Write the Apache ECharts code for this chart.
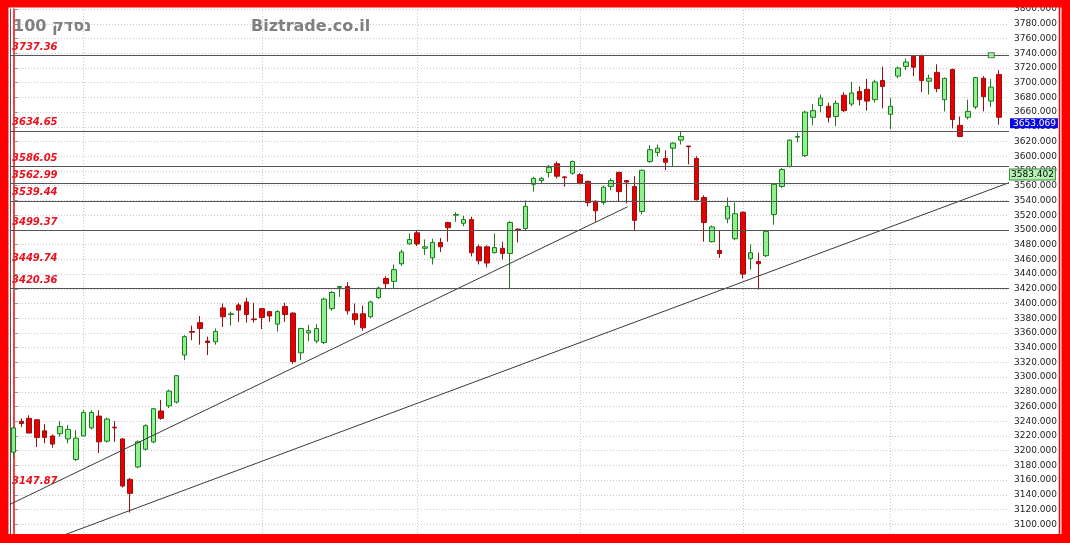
<!DOCTYPE html>
<html><head><meta charset="utf-8">
<script src="https://cdn.jsdelivr.net/npm/echarts@6/dist/echarts.min.js"></script>
<style>html,body{margin:0;padding:0;background:#f00;}#c{width:1070px;height:543px;}</style>
</head><body><div id="c"></div>
<script>
// ---- OHLC values ----
const opens  = [3198,3240,3244,3242,3227,3220,3223,3216,3188,3220,3231,3247,3213,3232,3216,3161,3178,3202,3212,3254,3261,3266,3330,3362,3374,3349,3348,3394,3385,3398,3402,3379,3393,3389,3372,3396,3387,3333,3360,3349,3347,3393,3422,3423,3386,3386,3382,3408,3434,3430,3454,3481,3496,3475,3462,3483,3510,3520,3509,3514,3477,3477,3469,3475,3468,3501,3502,3562,3567,3578,3590,3572,3577,3575,3566,3539,3537,3559,3578,3567,3559,3525,3593,3605,3597,3611,3622,3614,3597,3544,3484,3472,3515,3488,3524,3461,3457,3465,3521,3559,3586,3626,3601,3653,3669,3668,3654,3683,3671,3688,3691,3677,3703,3657,3709,3722,3736,3737,3702,3714,3677,3718,3642,3653,3667,3706,3675,3711];
const closes = [3231,3237,3224,3218,3218,3209,3233,3229,3217,3252,3252,3212,3243,3231,3152,3142,3212,3234,3257,3244,3281,3302,3355,3361,3366,3347,3362,3382,3386,3391,3385,3378,3381,3383,3389,3385,3321,3366,3363,3366,3406,3415,3423,3390,3378,3367,3402,3421,3427,3446,3470,3487,3481,3477,3483,3477,3503,3521,3514,3469,3458,3455,3476,3468,3510,3500,3532,3570,3570,3585,3573,3571,3593,3563,3537,3526,3558,3567,3552,3565,3513,3581,3609,3611,3592,3618,3627,3613,3541,3510,3504,3468,3532,3522,3440,3469,3454,3498,3562,3582,3622,3627,3660,3662,3679,3653,3672,3662,3686,3677,3675,3701,3695,3668,3720,3728,3721,3703,3706,3692,3706,3650,3627,3661,3707,3681,3694,3653.069];
const lows   = [3190,3232,3224,3205,3210,3204,3219,3210,3186,3220,3229,3197,3211,3212,3150,3116,3176,3200,3210,3242,3258,3264,3323,3350,3344,3330,3344,3368,3370,3375,3374,3374,3365,3375,3362,3375,3318,3323,3349,3346,3345,3390,3409,3385,3371,3363,3380,3406,3421,3421,3451,3480,3478,3466,3453,3470,3484,3511,3505,3464,3453,3449,3468,3460,3421,3483,3500,3552,3563,3571,3570,3559,3575,3562,3532,3511,3534,3554,3539,3536,3499,3521,3591,3600,3581,3586,3616,3589,3540,3484,3483,3462,3509,3486,3434,3446,3419,3463,3507,3557,3585,3619,3599,3642,3660,3646,3641,3660,3668,3669,3662,3673,3665,3637,3706,3717,3709,3687,3684,3687,3661,3638,3626,3650,3664,3661,3667,3643];
const highs  = [3233,3244,3248,3243,3236,3222,3240,3235,3228,3255,3255,3255,3245,3240,3217,3163,3214,3236,3258,3269,3283,3303,3357,3370,3383,3355,3366,3400,3389,3401,3408,3401,3394,3390,3391,3401,3388,3367,3371,3372,3408,3417,3424,3429,3400,3397,3404,3423,3437,3453,3473,3495,3500,3487,3488,3489,3511,3524,3519,3518,3480,3479,3495,3484,3512,3502,3540,3572,3572,3588,3593,3573,3594,3577,3567,3540,3560,3570,3579,3567,3573,3582,3615,3616,3608,3619,3634,3614,3600,3547,3506,3500,3544,3537,3525,3480,3469,3500,3563,3584,3623,3632,3662,3671,3684,3673,3676,3687,3701,3695,3705,3704,3722,3679,3722,3733,3737,3738,3711,3725,3707,3719,3654,3677,3708,3709,3705,3717];

// ---- annotations ----
const monthStartIdx = [9, 32, 52, 73, 94, 113];
const levelValues   = [3737.36, 3634.65, 3586.05, 3562.99, 3539.44, 3499.37, 3449.74, 3420.36, 3147.87];
const levelLineShown = [true, true, true, true, true, true, false, true, false];
const trendUpper = [[-0.5, 3127], [79.14, 3531.5]];
const trendLower = [[6, 3083.5], [128.29, 3564.2]];
const lastPrice = 3653.069;
const channelPrice = 3583.402;
const alertPoints = [[126, 3737.36]];
const yMin = 3080, yMax = 3800, yStep = 20;
const xMin = -0.477, xMax = 128.29;
const titleText = '100 נסדק';
const siteText = 'Biztrade.co.il';

const candleData = opens.map((o, i) => [i, o, closes[i], lows[i], highs[i]]);

const chart = echarts.init(document.getElementById('c'), null, {renderer: 'canvas'});
const titleStyle = {fontFamily: 'DejaVu Sans', fontWeight: 'bold', fontSize: 16, color: '#808080'};
const clear = 'rgba(0,0,0,0)';
chart.setOption({
  animation: false,
  backgroundColor: '#ffffff',
  title: [
    {text: titleText, left: 13, top: 19, padding: 0, textStyle: titleStyle},
    {text: siteText, left: 251, top: 19, padding: 0, textStyle: titleStyle}
  ],
  grid: {left: 10, right: 61, top: 9.1, bottom: 3.98, containLabel: false, outerBoundsMode: 'none'},
  xAxis: {type: 'value', min: xMin, max: xMax, show: false},
  yAxis: [{
    type: 'value', position: 'right', min: yMin, max: yMax, interval: yStep,
    axisLine: {show: true, lineStyle: {color: '#ff0000', width: 1.5}},
    axisTick: {show: true, length: 4, lineStyle: {color: '#888'}},
    axisLabel: {margin: 5, color: '#222', fontFamily: 'DejaVu Sans', fontSize: 9, formatter: v => v.toFixed(3)},
    splitLine: {show: true, lineStyle: {color: '#c8c8c8', type: [1, 2], width: 1}}
  }, {
    type: 'value', position: 'left', min: yMin, max: yMax,
    axisLine: {show: true, lineStyle: {color: '#555', width: 1}},
    axisTick: {show: false}, axisLabel: {show: false}, splitLine: {show: false}
  }],
  series: [
    {
      type: 'line', data: trendUpper, symbol: 'none', silent: true, z: 3,
      lineStyle: {color: '#3a3a3a', width: 1},
      markLine: {
        silent: true, symbol: 'none', z: 1, animation: false,
        label: {show: false},
        lineStyle: {color: '#c8c8c8', type: [1, 2], width: 1},
        data: monthStartIdx.map(i => ({xAxis: i}))
      }
    },
    {
      type: 'candlestick', data: candleData, encode: {x: 0, y: [1, 2, 3, 4]},
      barWidth: 5, silent: true,
      itemStyle: {color: '#8ef08e', color0: '#e60000', borderColor: '#1f7a1f', borderColor0: '#9a1010', borderWidth: 1},
      markLine: {
        silent: true, symbol: 'none', animation: false,
        lineStyle: {color: '#555', type: 'solid', width: 1.2},
        label: {
          show: true, position: 'insideStartTop', distance: [2, 3],
          color: '#e8121f', fontFamily: 'DejaVu Sans', fontWeight: 'bold', fontStyle: 'italic', fontSize: 10,
          formatter: p => levelValues[p.dataIndex].toFixed(2)
        },
        data: levelValues.map((v, i) => ({yAxis: v, lineStyle: {color: levelLineShown[i] ? '#555' : clear}}))
      }
    },
    {
      type: 'line', data: trendLower, symbol: 'none', silent: true, z: 3,
      lineStyle: {color: '#3a3a3a', width: 1},
      markLine: {
        silent: true, symbol: 'none', animation: false, z: 8,
        lineStyle: {color: clear},
        label: {show: true, position: 'end', distance: 1, offset: [0, 6], fontFamily: 'DejaVu Sans', fontSize: 9, lineHeight: 10},
        data: [
          {yAxis: lastPrice, label: {formatter: () => lastPrice.toFixed(3), color: '#ffffff', backgroundColor: '#0a0ae0', padding: [0, 2, 0, 3]}},
          {yAxis: channelPrice, label: {formatter: () => channelPrice.toFixed(3), color: '#000000', backgroundColor: '#b4f2b4', borderColor: '#3c8c3c', borderWidth: 1, padding: [0, 1, 0, 1]}}
        ]
      }
    },
    {
      type: 'scatter', data: alertPoints, symbol: 'rect', symbolSize: [6, 5], silent: true, z: 6,
      itemStyle: {color: '#a4eea4', borderColor: '#2f5f2f', borderWidth: 1}
    }
  ],
  graphic: [
    {type: 'rect', z: 100, silent: true, shape: {x: 0, y: 0, width: 1070, height: 7.5}, style: {fill: '#ff0000'}},
    {type: 'rect', z: 100, silent: true, shape: {x: 0, y: 534, width: 1070, height: 9}, style: {fill: '#ff0000'}},
    {type: 'rect', z: 100, silent: true, shape: {x: 0, y: 0, width: 8.5, height: 543}, style: {fill: '#ff0000'}},
    {type: 'rect', z: 100, silent: true, shape: {x: 1061.5, y: 0, width: 8.5, height: 543}, style: {fill: '#ff0000'}},
    {type: 'line', z: 100, silent: true, shape: {x1: 1059.5, y1: 0, x2: 1059.5, y2: 543}, style: {stroke: '#ff0000', lineWidth: 1.5}}
  ]
});
</script>
</body></html>
